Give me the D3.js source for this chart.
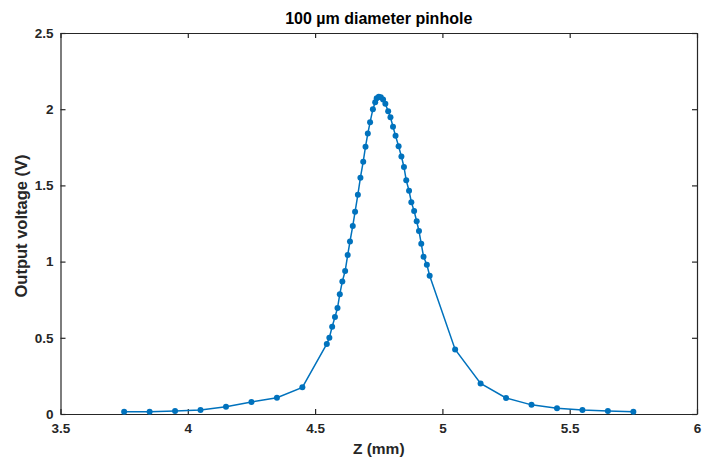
<!DOCTYPE html>
<html><head><meta charset="utf-8">
<script src="https://cdn.jsdelivr.net/npm/d3@7"></script>
<style>body{margin:0;background:#fff}svg{display:block}text{font-family:"Liberation Sans",Arial,Helvetica,sans-serif}</style>
</head><body><svg id="c" width="703" height="462"></svg>
<script>
const zValues = [3.75,3.85,3.95,4.05,4.15,4.25,4.35,4.45,
 4.546,4.556,4.567,4.578,4.588,4.597,4.607,4.618,4.628,4.637,4.648,4.657,4.668,4.678,4.689,4.698,4.707,4.716,4.727,4.736,4.742,4.750,4.758,4.767,4.776,4.787,
 4.796,4.806,4.816,4.828,4.839,4.849,4.858,4.869,4.878,4.889,4.899,4.908,4.917,4.926,4.939,4.95,
 5.05,5.15,5.25,5.35,5.45,5.55,5.65,5.75];
const voltage = [0.015,0.015,0.02,0.026,0.048,0.079,0.107,0.175,
 0.46,0.50,0.573,0.636,0.695,0.786,0.870,0.938,1.043,1.132,1.234,1.327,1.439,1.551,1.656,1.754,1.84,1.915,2.0,2.045,2.072,2.082,2.078,2.063,2.035,1.986,
 1.947,1.885,1.825,1.757,1.69,1.621,1.533,1.465,1.39,1.332,1.264,1.201,1.117,1.032,0.98,0.907,
 0.424,0.2,0.105,0.06,0.037,0.026,0.02,0.015];
const xTicks = [3.5,4,4.5,5,5.5,6];
const yTicks = [0,0.5,1,1.5,2,2.5];
const title = "100 µm diameter pinhole";
const xLabel = "Z (mm)";
const yLabel = "Output voltage (V)";

const L=60.5,R=697,T=33,B=414;
const svg=d3.select("#c");
const x=d3.scaleLinear().domain([3.5,6]).range([L,R]);
const y=d3.scaleLinear().domain([0,2.5]).range([B,T]);
const axCol="#262626";
const fmt=d=>String(d);

const gx=svg.append("g").attr("transform",`translate(0,${B})`)
 .call(d3.axisBottom(x).tickValues(xTicks).tickFormat(fmt).tickSizeInner(-5).tickSizeOuter(0).tickPadding(9));
const gxt=svg.append("g").attr("transform",`translate(0,${T})`)
 .call(d3.axisTop(x).tickValues(xTicks).tickFormat("").tickSizeInner(-5).tickSizeOuter(0));
const gy=svg.append("g").attr("transform",`translate(${L},0)`)
 .call(d3.axisLeft(y).tickValues(yTicks).tickFormat(fmt).tickSizeInner(-5).tickSizeOuter(0).tickPadding(7));
const gyr=svg.append("g").attr("transform",`translate(${R},0)`)
 .call(d3.axisRight(y).tickValues(yTicks).tickFormat("").tickSizeInner(-5).tickSizeOuter(0));
[gx,gxt,gy,gyr].forEach(g=>{
 g.selectAll("path").attr("stroke",axCol).attr("stroke-width",1.2);
 g.selectAll("line").attr("stroke",axCol).attr("stroke-width",1.2);
 g.selectAll("text").attr("fill",axCol).attr("font-size",13.5).attr("font-weight","bold");
});

const data=zValues.map((z,i)=>[z,voltage[i]]);
svg.append("path").datum(data).attr("fill","none").attr("stroke","#0072BD").attr("stroke-width",1.5)
 .attr("d",d3.line().x(d=>x(d[0])).y(d=>y(d[1])));
svg.append("g").selectAll("circle").data(data).join("circle")
 .attr("cx",d=>x(d[0])).attr("cy",d=>y(d[1])).attr("r",3).attr("fill","#0072BD");

svg.append("text").attr("x",(L+R)/2).attr("y",24).attr("text-anchor","middle")
 .attr("font-size",16).attr("font-weight","bold").attr("fill","#000").text(title);
svg.append("text").attr("x",(L+R)/2).attr("y",454).attr("text-anchor","middle")
 .attr("font-size",15.5).attr("font-weight","bold").attr("fill",axCol).text(xLabel);
svg.append("text").attr("transform",`translate(27,226) rotate(-90)`).attr("text-anchor","middle")
 .attr("font-size",16.5).attr("font-weight","bold").attr("fill",axCol).text(yLabel);
</script></body></html>
